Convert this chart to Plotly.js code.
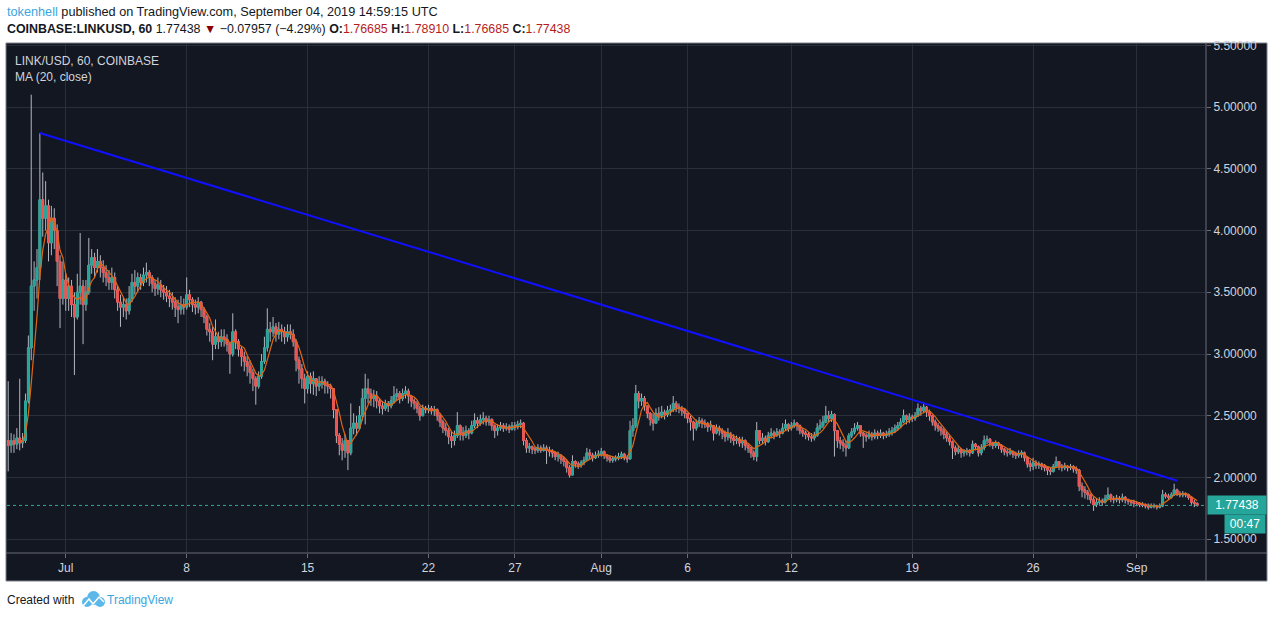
<!DOCTYPE html>
<html><head><meta charset="utf-8">
<script src="https://cdn.plot.ly/plotly-3.0.1.min.js"></script>
<style>html,body{margin:0;padding:0;background:#fff;overflow:hidden}#chart{width:1274px;height:618px}</style>
</head><body><div id="chart"></div>
<script>
// ---- data (4-hour bars) ----
const firstBarTime = Date.UTC(2019, 5, 27, 16);   // Jun 27 16:00 UTC
const barHours = 4;
const firstOpen = 2.30;
const barCloses = [
2.26,2.30,
2.27,2.32,2.28,2.30,2.62,3.05,
3.55,3.60,3.70,4.25,4.10,4.20,
3.90,4.10,4.00,3.75,3.45,3.60,
3.45,3.55,3.40,3.30,3.50,3.55,
3.40,3.50,3.72,3.78,3.70,3.75,
3.70,3.66,3.62,3.58,3.62,3.52,
3.42,3.38,3.40,3.35,3.45,3.58,
3.55,3.62,3.58,3.64,3.66,3.62,
3.57,3.53,3.56,3.52,3.50,3.47,
3.45,3.42,3.38,3.36,3.40,3.38,
3.48,3.44,3.40,3.38,3.42,3.36,
3.30,3.20,3.18,3.08,3.14,3.10,
3.14,3.12,3.08,3.00,3.18,3.10,
3.04,2.98,2.94,2.90,2.85,2.80,
2.74,2.82,2.94,3.05,3.20,3.18,
3.22,3.16,3.20,3.18,3.14,3.18,
3.16,3.10,2.95,2.88,2.80,2.72,
2.82,2.76,2.80,2.74,2.76,2.78,
2.75,2.74,2.72,2.55,2.34,2.27,
2.22,2.30,2.20,2.40,2.44,2.40,
2.50,2.64,2.72,2.68,2.64,2.66,
2.62,2.58,2.56,2.60,2.58,2.62,
2.66,2.68,2.64,2.68,2.70,2.66,
2.62,2.60,2.56,2.50,2.56,2.55,
2.56,2.54,2.55,2.50,2.45,2.40,
2.38,2.33,2.30,2.34,2.42,2.36,
2.34,2.38,2.36,2.42,2.46,2.44,
2.47,2.48,2.45,2.47,2.42,2.38,
2.40,2.42,2.40,2.41,2.39,2.42,
2.41,2.43,2.44,2.30,2.24,2.25,
2.23,2.22,2.24,2.22,2.24,2.22,
2.21,2.20,2.17,2.18,2.15,2.13,
2.08,2.02,2.13,2.11,2.10,2.12,
2.14,2.20,2.18,2.16,2.18,2.19,
2.21,2.18,2.16,2.14,2.15,2.16,
2.17,2.19,2.16,2.15,2.38,2.42,
2.68,2.62,2.64,2.58,2.52,2.47,
2.44,2.52,2.50,2.53,2.51,2.54,
2.55,2.60,2.57,2.56,2.54,2.52,
2.48,2.45,2.40,2.44,2.46,2.44,
2.43,2.41,2.42,2.36,2.40,2.38,
2.36,2.33,2.35,2.32,2.30,2.31,
2.28,2.30,2.26,2.24,2.20,2.17,
2.38,2.30,2.32,2.29,2.34,2.36,
2.34,2.37,2.36,2.40,2.43,2.40,
2.42,2.44,2.42,2.38,2.36,2.35,
2.33,2.32,2.34,2.40,2.42,2.45,
2.50,2.48,2.51,2.38,2.30,2.28,
2.26,2.24,2.34,2.37,2.40,2.42,
2.36,2.34,2.33,2.35,2.33,2.36,
2.34,2.36,2.34,2.35,2.37,2.38,
2.40,2.42,2.45,2.50,2.47,2.49,
2.48,2.50,2.56,2.54,2.57,2.53,
2.50,2.45,2.42,2.40,2.38,2.35,
2.32,2.29,2.24,2.21,2.23,2.20,
2.21,2.22,2.20,2.27,2.25,2.20,
2.24,2.30,2.31,2.28,2.26,2.28,
2.26,2.23,2.21,2.20,2.21,2.19,
2.18,2.19,2.20,2.16,2.11,2.09,
2.12,2.10,2.11,2.09,2.08,2.06,
2.05,2.09,2.13,2.09,2.08,2.09,
2.08,2.09,2.07,2.06,1.93,1.90,
1.88,1.86,1.82,1.78,1.80,1.81,
1.80,1.83,1.86,1.83,1.82,1.83,
1.82,1.84,1.82,1.81,1.80,1.79,
1.79,1.78,1.78,1.77,1.76,1.77,
1.77,1.76,1.77,1.86,1.85,1.84,
1.86,1.90,1.87,1.86,1.87,1.86,
1.84,1.80,1.79,1.77438
];
const barHighs = [
2.78,2.36,
2.35,2.40,2.80,2.36,2.68,3.15,
5.10,3.75,3.85,4.79,4.47,4.40,
4.25,4.20,4.18,4.05,3.80,3.75,
3.65,3.62,3.60,3.50,3.65,3.98,
3.60,3.60,3.94,3.85,3.82,3.85,
3.80,3.76,3.72,3.68,3.70,3.66,
3.55,3.48,3.46,3.45,3.55,3.65,
3.68,3.66,3.65,3.70,3.74,3.68,
3.64,3.60,3.62,3.60,3.56,3.55,
3.52,3.50,3.46,3.44,3.47,3.45,
3.62,3.52,3.46,3.44,3.46,3.43,
3.38,3.32,3.25,3.22,3.28,3.18,
3.20,3.20,3.16,3.10,3.33,3.20,
3.12,3.06,3.02,2.98,2.95,2.88,
2.82,2.86,3.00,3.14,3.37,3.26,
3.30,3.25,3.26,3.24,3.22,3.24,
3.24,3.20,3.12,2.98,2.92,2.84,
2.86,2.85,2.86,2.80,2.82,2.82,
2.80,2.78,2.76,2.72,2.55,2.36,
2.32,2.35,2.30,2.60,2.52,2.50,
2.58,2.72,2.84,2.80,2.72,2.71,
2.70,2.64,2.62,2.63,2.62,2.66,
2.74,2.72,2.70,2.72,2.74,2.72,
2.67,2.64,2.62,2.58,2.59,2.58,
2.59,2.58,2.58,2.56,2.52,2.47,
2.44,2.40,2.37,2.38,2.53,2.43,
2.41,2.42,2.40,2.46,2.52,2.49,
2.51,2.53,2.50,2.50,2.48,2.43,
2.43,2.45,2.44,2.44,2.43,2.45,
2.45,2.46,2.47,2.45,2.32,2.28,
2.26,2.25,2.27,2.26,2.27,2.26,
2.25,2.23,2.21,2.21,2.19,2.17,
2.14,2.10,2.18,2.14,2.13,2.14,
2.17,2.24,2.23,2.20,2.21,2.22,
2.24,2.22,2.19,2.18,2.17,2.18,
2.20,2.21,2.20,2.18,2.46,2.48,
2.75,2.70,2.68,2.66,2.58,2.53,
2.52,2.56,2.57,2.58,2.55,2.58,
2.59,2.66,2.62,2.60,2.58,2.56,
2.52,2.50,2.46,2.47,2.49,2.48,
2.47,2.45,2.46,2.42,2.43,2.42,
2.40,2.38,2.40,2.37,2.35,2.34,
2.33,2.33,2.31,2.28,2.25,2.22,
2.45,2.38,2.36,2.34,2.37,2.40,
2.38,2.40,2.39,2.44,2.47,2.44,
2.45,2.47,2.45,2.43,2.40,2.38,
2.37,2.36,2.37,2.44,2.47,2.50,
2.58,2.54,2.54,2.52,2.38,2.33,
2.31,2.30,2.36,2.40,2.44,2.45,
2.42,2.37,2.36,2.38,2.37,2.39,
2.38,2.39,2.37,2.38,2.40,2.41,
2.43,2.45,2.48,2.55,2.51,2.52,
2.51,2.53,2.60,2.58,2.61,2.58,
2.55,2.51,2.47,2.44,2.42,2.40,
2.37,2.34,2.30,2.26,2.26,2.24,
2.23,2.24,2.23,2.30,2.28,2.26,
2.27,2.34,2.34,2.32,2.29,2.30,
2.29,2.27,2.24,2.23,2.24,2.22,
2.21,2.22,2.22,2.21,2.17,2.14,
2.16,2.14,2.13,2.12,2.11,2.09,
2.08,2.11,2.17,2.13,2.11,2.12,
2.10,2.11,2.10,2.09,2.07,1.96,
1.93,1.90,1.87,1.84,1.83,1.84,
1.83,1.86,1.92,1.87,1.85,1.86,
1.85,1.87,1.85,1.83,1.82,1.82,
1.81,1.80,1.80,1.79,1.79,1.79,
1.79,1.78,1.79,1.90,1.88,1.87,
1.88,1.95,1.91,1.89,1.89,1.88,
1.87,1.85,1.82,1.80
];
const barLows = [
2.05,2.20,
2.20,2.23,2.22,2.24,2.28,2.60,
2.95,3.35,3.45,3.60,3.95,4.00,
3.75,3.80,3.85,3.55,3.21,3.40,
3.35,3.35,3.30,2.83,3.28,3.40,
3.08,3.35,3.48,3.65,3.62,3.66,
3.62,3.58,3.55,3.52,3.52,3.45,
3.35,3.22,3.30,3.28,3.32,3.42,
3.48,3.50,3.52,3.55,3.58,3.55,
3.50,3.47,3.48,3.46,3.44,3.42,
3.38,3.36,3.30,3.25,3.32,3.32,
3.36,3.38,3.34,3.32,3.33,3.30,
3.25,3.15,3.10,2.95,3.04,3.04,
3.06,3.06,3.02,2.84,2.98,3.04,
2.98,2.90,2.86,2.82,2.76,2.70,
2.59,2.72,2.80,2.92,3.02,3.10,
3.14,3.10,3.12,3.10,3.08,3.10,
3.12,3.06,2.86,2.76,2.72,2.60,
2.68,2.68,2.67,2.66,2.70,2.72,
2.68,2.68,2.64,2.48,2.28,2.18,
2.14,2.16,2.06,2.18,2.35,2.34,
2.40,2.46,2.43,2.60,2.58,2.57,
2.56,2.52,2.51,2.54,2.53,2.56,
2.60,2.62,2.60,2.62,2.64,2.60,
2.57,2.55,2.52,2.46,2.50,2.52,
2.52,2.51,2.50,2.46,2.41,2.36,
2.34,2.27,2.24,2.26,2.32,2.30,
2.30,2.32,2.31,2.35,2.40,2.40,
2.42,2.43,2.42,2.42,2.38,2.32,
2.34,2.38,2.37,2.38,2.36,2.38,
2.38,2.39,2.40,2.26,2.20,2.20,
2.19,2.19,2.20,2.20,2.21,2.11,
2.17,2.16,2.14,2.13,2.11,2.09,
2.04,2.00,2.03,2.08,2.07,2.08,
2.10,2.14,2.15,2.13,2.15,2.16,
2.17,2.15,2.13,2.12,2.12,2.13,
2.14,2.15,2.14,2.12,2.15,2.33,
2.40,2.56,2.58,2.54,2.48,2.42,
2.38,2.44,2.46,2.48,2.47,2.49,
2.50,2.53,2.53,2.52,2.50,2.48,
2.44,2.38,2.30,2.38,2.41,2.40,
2.40,2.37,2.38,2.30,2.35,2.34,
2.31,2.29,2.30,2.28,2.26,2.27,
2.25,2.24,2.22,2.20,2.16,2.14,
2.13,2.27,2.27,2.26,2.28,2.32,
2.31,2.33,2.32,2.35,2.38,2.37,
2.38,2.40,2.38,2.35,2.33,2.31,
2.30,2.29,2.30,2.33,2.38,2.40,
2.44,2.45,2.45,2.17,2.24,2.23,
2.21,2.17,2.23,2.32,2.35,2.38,
2.33,2.24,2.29,2.31,2.30,2.31,
2.31,2.32,2.31,2.32,2.33,2.34,
2.36,2.38,2.40,2.44,2.43,2.44,
2.45,2.46,2.49,2.50,2.52,2.49,
2.46,2.42,2.38,2.37,2.34,2.31,
2.29,2.26,2.15,2.18,2.19,2.16,
2.17,2.18,2.17,2.19,2.22,2.17,
2.18,2.22,2.27,2.25,2.23,2.24,
2.23,2.20,2.18,2.17,2.18,2.16,
2.15,2.16,2.16,2.13,2.08,2.05,
2.06,2.07,2.07,2.06,2.05,2.02,
2.02,2.04,2.08,2.06,2.05,2.06,
2.05,2.06,2.04,2.03,1.89,1.84,
1.83,1.82,1.79,1.73,1.76,1.78,
1.77,1.79,1.82,1.80,1.79,1.80,
1.79,1.80,1.79,1.78,1.77,1.76,
1.77,1.76,1.76,1.75,1.74,1.75,
1.75,1.74,1.75,1.76,1.83,1.82,
1.83,1.85,1.85,1.84,1.84,1.84,
1.82,1.78,1.76,1.765
];
const maBars = 5;                 // MA(20, close) on 1h = 5 bars of 4h
const trendTimes = ['2019-06-29 11:50', '2019-09-03 08:25'];
const trendPrices = [4.79, 1.974];
const tickDates = ['2019-07-01','2019-07-08','2019-07-15','2019-07-22','2019-07-27','2019-08-01','2019-08-06','2019-08-12','2019-08-19','2019-08-26','2019-09-01'];
const tickLabels = ['Jul','8','15','22','27','Aug','6','12','19','26','Sep'];
const priceTicks = [1.5,2,2.5,3,3.5,4,4.5,5,5.5];
const lastPrice = 1.77438;
const countdownText = '00:47';
const quoteOpen = '1.76685', quoteHigh = '1.78910', quoteLow = '1.76685', quoteClose = '1.77438';
const quoteChange = '\u22120.07957 (\u22124.29%)';

// ---- build series ----
function fmt(ms){const d=new Date(ms);const p=n=>String(n).padStart(2,'0');
  return d.getUTCFullYear()+'-'+p(d.getUTCMonth()+1)+'-'+p(d.getUTCDate())+' '+p(d.getUTCHours())+':'+p(d.getUTCMinutes());}
const n = barCloses.length;
const times=[], opens=[], highs=[], lows=[], bodyHi=[], bodyLo=[];
for(let i=0;i<n;i++){
  times.push(fmt(firstBarTime + i*barHours*3600e3));
  const o = i===0 ? firstOpen : barCloses[i-1];
  const c = barCloses[i];
  opens.push(o);
  highs.push(Math.max(barHighs[i], o, c));
  lows.push(Math.min(barLows[i], o, c));
  bodyHi.push(Math.max(o,c)); bodyLo.push(Math.min(o,c));
}
const maX=[], maY=[];
for(let i=maBars-1;i<n;i++){let s=0;for(let k=0;k<maBars;k++)s+=barCloses[i-k];maX.push(times[i]);maY.push(s/maBars);}

const UP='#26a69a', DN='#ef5350', WICK='#b4b7bf';
const traces = [
  {type:'candlestick', x:times, open:opens, high:highs, low:lows, close:barCloses,
   increasing:{line:{color:WICK,width:1}, fillcolor:UP},
   decreasing:{line:{color:WICK,width:1}, fillcolor:DN}, whiskerwidth:0, hoverinfo:'skip'},
  {type:'candlestick', x:times, open:opens, high:bodyHi, low:bodyLo, close:barCloses,
   increasing:{line:{color:UP,width:1}, fillcolor:UP},
   decreasing:{line:{color:DN,width:1}, fillcolor:DN}, whiskerwidth:0, hoverinfo:'skip'},
  {type:'scatter', mode:'lines', x:maX, y:maY, line:{color:'#e2680f', width:1.2}, hoverinfo:'skip'},
  {type:'scatter', mode:'lines', x:trendTimes, y:trendPrices, line:{color:'#1010ff', width:2}, hoverinfo:'skip'}
];

const L=7, R=1206, T=44, B=553;
const px=v=>(v-L)/(R-L), py=v=>(B-v)/(B-T);
const FONT='"Liberation Sans", Arial, sans-serif';
const GRAY='#6a6d78';

const shapes = [
  {type:'rect', xref:'paper', yref:'paper', x0:px(6), x1:px(1267), y0:py(581), y1:py(43), fillcolor:'#131722', line:{color:'#7d808a',width:1}, layer:'below'},
  {type:'line', xref:'paper', yref:'paper', x0:px(6), x1:px(1267), y0:0, y1:0, line:{color:GRAY,width:1}},
  {type:'line', xref:'paper', yref:'paper', x0:1, x1:1, y0:py(581), y1:py(43), line:{color:GRAY,width:1}},
  {type:'line', xref:'paper', yref:'y', x0:0, x1:1, y0:lastPrice, y1:lastPrice, line:{color:'#2fa99c',width:1,dash:'dot'}},
  // TradingView logo (cloud)
  {type:'circle', xref:'paper', yref:'paper', x0:px(82), x1:px(92), y0:py(607), y1:py(597), fillcolor:'#5bb8e8', line:{width:0}},
  {type:'circle', xref:'paper', yref:'paper', x0:px(87), x1:px(100), y0:py(605), y1:py(591), fillcolor:'#5bb8e8', line:{width:0}},
  {type:'circle', xref:'paper', yref:'paper', x0:px(95), x1:px(105), y0:py(607), y1:py(597), fillcolor:'#5bb8e8', line:{width:0}},
  {type:'path', xref:'paper', yref:'paper',
   path:`M ${px(83)},${py(606)} L ${px(89)},${py(599)} L ${px(93)},${py(604)} L ${px(99)},${py(597)} L ${px(104)},${py(602)}`,
   line:{color:'#ffffff',width:1.5}}
];

const annotations = [
  {xref:'paper', yref:'paper', x:px(5), y:py(12), xanchor:'left', yanchor:'middle', showarrow:false,
   font:{family:FONT,size:12.7,color:'#131722'},
   text:'<span style="color:#3aa5df">tokenhell</span> published on TradingView.com, September 04, 2019 14:59:15 UTC'},
  {xref:'paper', yref:'paper', x:px(5), y:py(29), xanchor:'left', yanchor:'middle', showarrow:false,
   font:{family:FONT,size:12.4,color:'#131722'},
   text:'<b>COINBASE:LINKUSD, 60</b> '+quoteClose+' <span style="color:#8b0000">\u25BC</span> '+quoteChange+
        ' <b>O:</b><span style="color:#b71c1c">'+quoteOpen+'</span> <b>H:</b><span style="color:#b71c1c">'+quoteHigh+
        '</span> <b>L:</b><span style="color:#b71c1c">'+quoteLow+'</span> <b>C:</b><span style="color:#b71c1c">'+quoteClose+'</span>'},
  {xref:'paper', yref:'paper', x:px(13), y:py(61), xanchor:'left', yanchor:'middle', showarrow:false,
   font:{family:FONT,size:12,color:'#d1d4dc'}, text:'LINK/USD, 60, COINBASE'},
  {xref:'paper', yref:'paper', x:px(13), y:py(77), xanchor:'left', yanchor:'middle', showarrow:false,
   font:{family:FONT,size:12,color:'#d1d4dc'}, text:'MA (20, close)'},
  {xref:'paper', yref:'y', x:px(1207), y:lastPrice, xanchor:'left', yanchor:'middle', showarrow:false,
   bgcolor:'#26a69a', width:54, height:14, borderpad:2, align:'center',
   font:{family:FONT,size:12,color:'#ffffff'}, text:lastPrice.toFixed(5)},
  {xref:'paper', yref:'paper', x:px(1266), y:py(524), xanchor:'right', yanchor:'middle', showarrow:false,
   bgcolor:'#26a69a', width:36, height:14, borderpad:2, align:'center',
   font:{family:FONT,size:12,color:'#ffffff'}, text:countdownText},
  {xref:'paper', yref:'paper', x:px(5), y:py(600), xanchor:'left', yanchor:'middle', showarrow:false,
   font:{family:FONT,size:12,color:'#131722'}, text:'Created with'},
  {xref:'paper', yref:'paper', x:px(105), y:py(600), xanchor:'left', yanchor:'middle', showarrow:false,
   font:{family:FONT,size:12,color:'#3aa5df'}, text:'TradingView'}
];

const layout = {
  width:1274, height:618,
  margin:{l:L, r:1274-R, t:T, b:618-B, pad:0},
  paper_bgcolor:'#ffffff', plot_bgcolor:'#131722',
  font:{family:FONT, size:12, color:'#d1d4dc'},
  showlegend:false, hovermode:false, dragmode:false,
  xaxis:{type:'date', range:['2019-06-27 14:20','2019-09-05 00:14'],
    tickmode:'array', tickvals:tickDates, ticktext:tickLabels,
    showgrid:true, gridcolor:'#2a2e39', gridwidth:1, zeroline:false, showline:false,
    ticks:'outside', ticklen:4, tickcolor:GRAY, tickfont:{family:FONT,size:12,color:'#d1d4dc'},
    rangeslider:{visible:false}, fixedrange:true},
  yaxis:{side:'right', range:[1.389,5.5105], tickmode:'array', tickvals:priceTicks,
    ticktext:priceTicks.map(v=>v.toFixed(5)),
    showgrid:true, gridcolor:'#2a2e39', gridwidth:1, zeroline:false, showline:false,
    ticks:'outside', ticklen:4, tickcolor:GRAY, tickfont:{family:FONT,size:12,color:'#d1d4dc'}, fixedrange:true},
  boxgap:0.1,
  shapes:shapes, annotations:annotations
};
Plotly.newPlot('chart', traces, layout, {staticPlot:true, displayModeBar:false});
</script>
</body></html>
